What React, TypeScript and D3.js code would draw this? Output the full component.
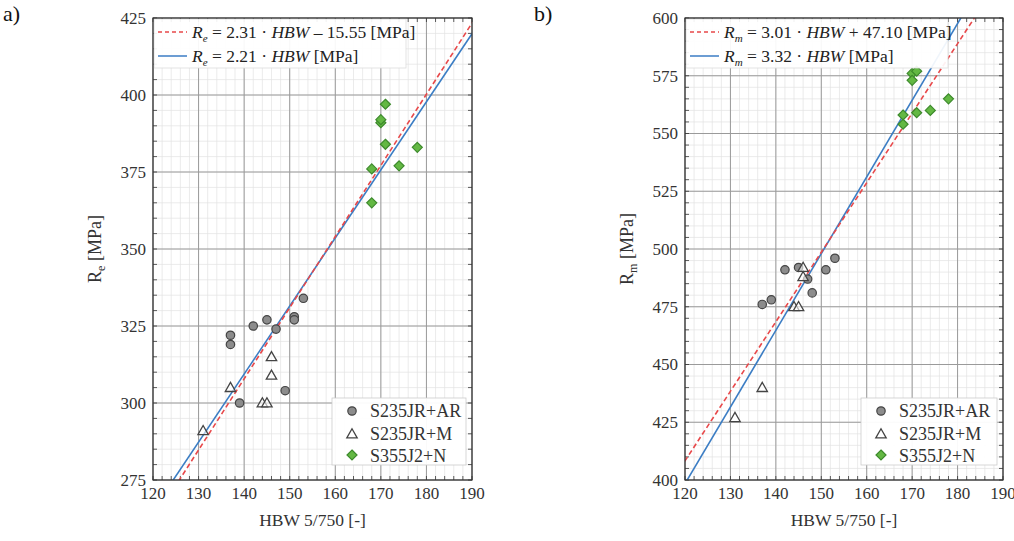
import React from "react";
import * as d3 from "d3";

// ---------- data ----------
const hbwTicks = [120, 130, 140, 150, 160, 170, 180, 190];
const reTicks = [275, 300, 325, 350, 375, 400, 425];
const rmTicks = [400, 425, 450, 475, 500, 525, 550, 575, 600];

const reAR_hbw = [137, 137, 142, 145, 147, 151, 151, 153, 149, 139];
const reAR_val = [322, 319, 325, 327, 324, 328, 327, 334, 304, 300];
const reM_hbw = [131, 137, 144, 145, 146, 146];
const reM_val = [291, 305, 300, 300, 309, 315];
const reN_hbw = [171, 170, 170, 171, 178, 174, 168, 168];
const reN_val = [397, 391, 392, 384, 383, 377, 376, 365];

const rmAR_hbw = [137, 139, 142, 145, 147, 148, 151, 153];
const rmAR_val = [476, 478, 491, 492, 487, 481, 491, 496];
const rmM_hbw = [131, 137, 144, 145, 146, 146];
const rmM_val = [427, 440, 475, 475, 492, 488];
const rmN_hbw = [170, 171, 170, 168, 168, 171, 174, 178];
const rmN_val = [576, 577, 573, 558, 554, 559, 560, 565];

// fit lines: [slope, intercept]
const reFitRed = [2.31, -15.55];
const reFitBlue = [2.21, 0];
const rmFitRed = [3.01, 47.1];
const rmFitBlue = [3.32, 0];

const seriesNames = ["S235JR+AR", "S235JR+M", "S355J2+N"];

const FONT = "Liberation Serif";
const RED = "#e8484a";
const BLUE = "#3b7dc4";
const GREEN_FILL = "#63b843";
const GREEN_STROKE = "#3d8a2c";

type PanelProps = {
  x0: number; x1: number; y0: number; y1: number;
  yDomain: [number, number]; yTicks: number[];
  sym: string;
  ar: [number[], number[]]; m: [number[], number[]]; n: [number[], number[]];
  red: number[]; blue: number[];
  redText: string; blueText: string;
  eqBoxW: number; legX: number; legW: number;
  panelLabel: string; panelLabelX: number; yLabelX: number;
  id: string;
};

function Triangle({ cx, cy }: { cx: number; cy: number }) {
  const s = 5.2;
  const p = `M${cx},${cy - s} L${cx + s},${cy + s * 0.75} L${cx - s},${cy + s * 0.75} Z`;
  return <path d={p} fill="white" fillOpacity={0.6} stroke="#444" strokeWidth={1.3} />;
}
function Diamond({ cx, cy }: { cx: number; cy: number }) {
  const s = 5;
  const p = `M${cx},${cy - s} L${cx + s},${cy} L${cx},${cy + s} L${cx - s},${cy} Z`;
  return <path d={p} fill={GREEN_FILL} stroke={GREEN_STROKE} strokeWidth={1.2} />;
}
function Circle({ cx, cy }: { cx: number; cy: number }) {
  return <circle cx={cx} cy={cy} r={4.2} fill="#8c8c8c" stroke="#444" strokeWidth={1.2} />;
}

function Panel(p: PanelProps) {
  const x = d3.scaleLinear().domain([120, 190]).range([p.x0, p.x1]);
  const y = d3.scaleLinear().domain(p.yDomain).range([p.y1, p.y0]);
  const xMinor = d3.range(120, 190.001, 2);
  const yMinor = d3.range(p.yDomain[0], p.yDomain[1] + 0.001, 5);
  const line = (c: number[]) =>
    d3.line<number>().x((v) => x(v)).y((v) => y(c[0] * v + c[1]))([118, 192]) || "";
  const clip = `clip-${p.id}`;
  const sub = p.sym;
  const eqRow = (yy: number, color: string, dashed: boolean, txt: string) => (
    <g>
      <line x1={p.x0 + 5} x2={p.x0 + 34} y1={yy} y2={yy} stroke={color} strokeWidth={1.5}
        strokeDasharray={dashed ? "4,3" : undefined} />
      <text x={p.x0 + 39} y={yy} dy="0.35em" fontSize={17.5} fontFamily={FONT} fill="#222" style={{ whiteSpace: "pre" }}>
        <tspan fontStyle="italic">R</tspan>
        <tspan fontStyle="italic" fontSize={11} dy="4">{sub}</tspan>
        <tspan dy="-4">{" = " + txt.split("|")[0]}</tspan>
        <tspan fontStyle="italic">HBW</tspan>
        <tspan>{txt.split("|")[1]}</tspan>
      </text>
    </g>
  );
  return (
    <g>
      <defs>
        <clipPath id={clip}>
          <rect x={p.x0} y={p.y0} width={p.x1 - p.x0} height={p.y1 - p.y0} />
        </clipPath>
      </defs>
      <rect x={p.x0} y={p.y0} width={p.x1 - p.x0} height={p.y1 - p.y0} fill="white" />
      {xMinor.map((v) => (
        <line key={"xm" + v} x1={x(v)} x2={x(v)} y1={p.y0} y2={p.y1} stroke="#e2e2e2" strokeWidth={0.7} />
      ))}
      {yMinor.map((v) => (
        <line key={"ym" + v} x1={p.x0} x2={p.x1} y1={y(v)} y2={y(v)} stroke="#e2e2e2" strokeWidth={0.7} />
      ))}
      {hbwTicks.map((v) => (
        <line key={"xg" + v} x1={x(v)} x2={x(v)} y1={p.y0} y2={p.y1} stroke="#9a9a9a" strokeWidth={1} />
      ))}
      {p.yTicks.map((v) => (
        <line key={"yg" + v} x1={p.x0} x2={p.x1} y1={y(v)} y2={y(v)} stroke="#9a9a9a" strokeWidth={1} />
      ))}
      {xMinor.map((v) => (
        <g key={"xt" + v}>
          <line x1={x(v)} x2={x(v)} y1={p.y1} y2={p.y1 - 4} stroke="#333" strokeWidth={0.8} />
          <line x1={x(v)} x2={x(v)} y1={p.y0} y2={p.y0 + 4} stroke="#333" strokeWidth={0.8} />
        </g>
      ))}
      {yMinor.map((v) => (
        <g key={"yt" + v}>
          <line x1={p.x0} x2={p.x0 + 4} y1={y(v)} y2={y(v)} stroke="#333" strokeWidth={0.8} />
          <line x1={p.x1} x2={p.x1 - 4} y1={y(v)} y2={y(v)} stroke="#333" strokeWidth={0.8} />
        </g>
      ))}
      <g clipPath={`url(#${clip})`}>
        <path d={line(p.blue)} stroke={BLUE} strokeWidth={1.6} fill="none" />
        <path d={line(p.red)} stroke={RED} strokeWidth={1.6} fill="none" strokeDasharray="5,3" />
      </g>
      {p.ar[0].map((v, i) => <Circle key={"a" + i} cx={x(v)} cy={y(p.ar[1][i])} />)}
      {p.m[0].map((v, i) => <Triangle key={"m" + i} cx={x(v)} cy={y(p.m[1][i])} />)}
      {p.n[0].map((v, i) => <Diamond key={"n" + i} cx={x(v)} cy={y(p.n[1][i])} />)}
      <rect x={p.x0 + 1} y={p.y0 + 1} width={p.eqBoxW} height={49} fill="white" fillOpacity={0.92} stroke="#ddd" strokeWidth={0.8} />
      {eqRow(p.y0 + 14, RED, true, p.redText)}
      {eqRow(p.y0 + 38, BLUE, false, p.blueText)}
      <rect x={p.legX} y={398} width={p.legW} height={67} fill="white" fillOpacity={0.95} stroke="#ccc" strokeWidth={0.8} />
      <Circle cx={p.legX + 20} cy={411} />
      <Triangle cx={p.legX + 20} cy={434} />
      <Diamond cx={p.legX + 20} cy={455} />
      {seriesNames.map((s, i) => (
        <text key={s} x={p.legX + 38} y={411 + i * 22.5} dy="0.35em" fontSize={18} fontFamily={FONT} fill="#333">{s}</text>
      ))}
      <rect x={p.x0} y={p.y0} width={p.x1 - p.x0} height={p.y1 - p.y0} fill="none" stroke="#333" strokeWidth={1.2} />
      {hbwTicks.map((v) => (
        <text key={"xl" + v} x={x(v)} y={p.y1 + 19} textAnchor="middle" fontSize={17} fontFamily={FONT} fill="#333">{v}</text>
      ))}
      {p.yTicks.map((v) => (
        <text key={"yl" + v} x={p.x0 - 7} y={y(v)} dy="0.35em" textAnchor="end" fontSize={17} fontFamily={FONT} fill="#333">{v}</text>
      ))}
      <text x={(p.x0 + p.x1) / 2} y={526} textAnchor="middle" fontSize={17.5} fontFamily={FONT} fill="#333">HBW 5/750 [-]</text>
      <text transform={`translate(${p.yLabelX},${(p.y0 + p.y1) / 2}) rotate(-90)`} textAnchor="middle" fontSize={18} fontFamily={FONT} fill="#333">
        <tspan>R</tspan>
        <tspan fontSize={12} dy="4">{sub}</tspan>
        <tspan dy="-4"> [MPa]</tspan>
      </text>
      <text x={p.panelLabelX} y={21} fontSize={22} fontFamily={FONT} fill="#111">{p.panelLabel}</text>
    </g>
  );
}

export default function App() {
  return (
    <svg width={1014} height={541} style={{ position: "absolute", left: 0, top: 0, background: "white" }}>
      <rect width={1014} height={541} fill="white" />
      <Panel id="a" x0={153} x1={472} y0={18} y1={480} yDomain={[275, 425]} yTicks={reTicks}
        sym="e" ar={[reAR_hbw, reAR_val]} m={[reM_hbw, reM_val]} n={[reN_hbw, reN_val]}
        red={reFitRed} blue={reFitBlue}
        redText="2.31 · | – 15.55 [MPa]" blueText="2.21 · | [MPa]"
        eqBoxW={252} legX={332} legW={134} panelLabel="a)" panelLabelX={3} yLabelX={101} />
      <Panel id="b" x0={685} x1={1003} y0={18} y1={480} yDomain={[400, 600]} yTicks={rmTicks}
        sym="m" ar={[rmAR_hbw, rmAR_val]} m={[rmM_hbw, rmM_val]} n={[rmN_hbw, rmN_val]}
        red={rmFitRed} blue={rmFitBlue}
        redText="3.01 · | + 47.10 [MPa]" blueText="3.32 · | [MPa]"
        eqBoxW={262} legX={861} legW={136} panelLabel="b)" panelLabelX={534} yLabelX={633} />
    </svg>
  );
}
